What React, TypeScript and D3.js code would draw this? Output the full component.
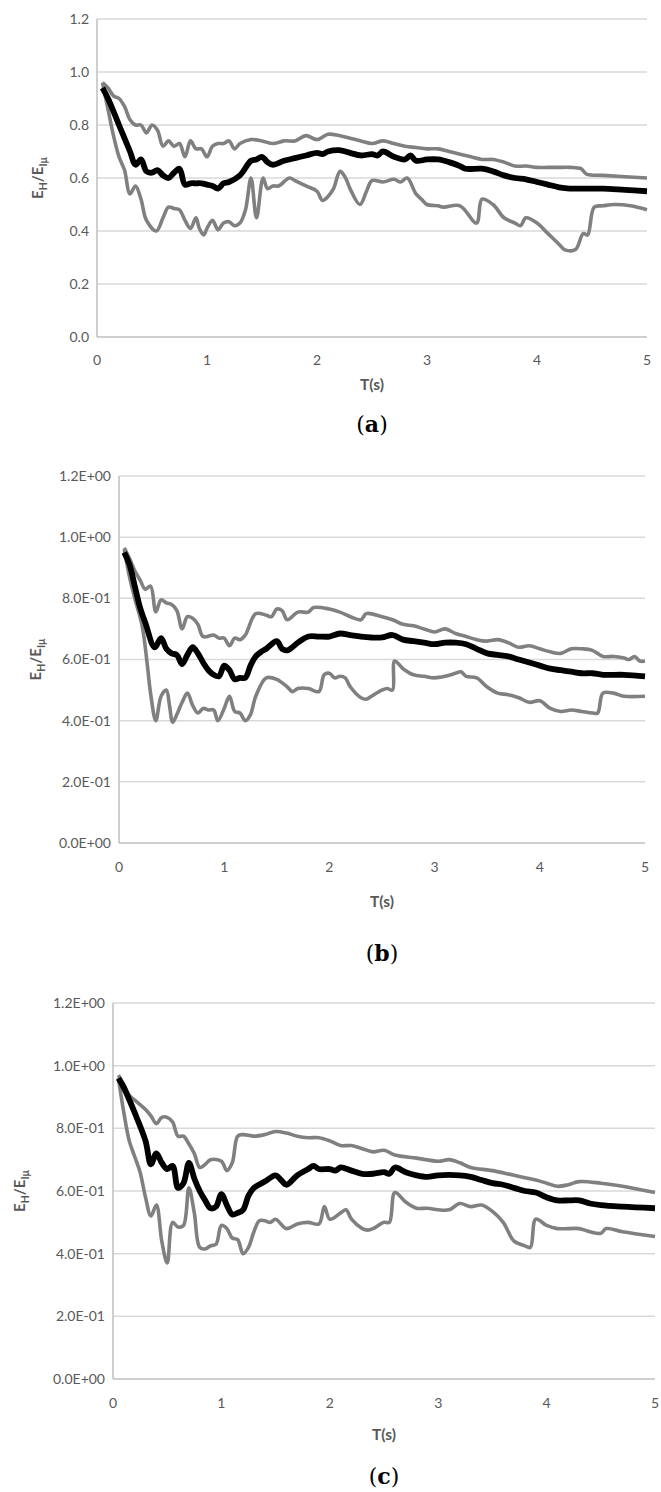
import React from 'react';
import * as d3 from 'd3';

type Pt = [number, number];

// ---- panel (a)
const upperA: Pt[] = [[0.05,0.96],[0.1,0.94],[0.15,0.91],[0.2,0.90],[0.25,0.87],[0.3,0.82],[0.35,0.80],[0.4,0.80],[0.45,0.77],[0.5,0.80],[0.55,0.78],[0.6,0.72],[0.65,0.74],[0.7,0.72],[0.75,0.73],[0.8,0.68],[0.85,0.74],[0.9,0.71],[0.95,0.71],[1.0,0.68],[1.05,0.72],[1.1,0.73],[1.15,0.73],[1.2,0.74],[1.25,0.71],[1.3,0.73],[1.4,0.745],[1.5,0.74],[1.6,0.73],[1.7,0.74],[1.8,0.74],[1.9,0.76],[2.0,0.745],[2.1,0.765],[2.2,0.76],[2.3,0.75],[2.4,0.74],[2.5,0.73],[2.6,0.74],[2.7,0.73],[2.8,0.72],[2.9,0.715],[3.0,0.71],[3.1,0.71],[3.2,0.70],[3.3,0.69],[3.4,0.68],[3.5,0.67],[3.6,0.67],[3.7,0.66],[3.8,0.645],[3.9,0.645],[4.0,0.64],[4.1,0.64],[4.2,0.64],[4.3,0.64],[4.4,0.635],[4.45,0.615],[4.6,0.61],[4.8,0.605],[5.0,0.60]];
const meanA: Pt[] = [[0.05,0.94],[0.1,0.90],[0.2,0.80],[0.3,0.70],[0.35,0.65],[0.4,0.67],[0.45,0.625],[0.5,0.62],[0.55,0.63],[0.6,0.61],[0.65,0.60],[0.7,0.62],[0.75,0.635],[0.8,0.575],[0.85,0.58],[0.9,0.58],[0.95,0.58],[1.0,0.575],[1.05,0.57],[1.1,0.56],[1.15,0.58],[1.2,0.585],[1.3,0.61],[1.4,0.665],[1.45,0.67],[1.5,0.68],[1.55,0.66],[1.6,0.65],[1.7,0.665],[1.8,0.675],[1.9,0.685],[2.0,0.695],[2.05,0.69],[2.1,0.70],[2.2,0.705],[2.3,0.695],[2.4,0.685],[2.5,0.69],[2.55,0.685],[2.6,0.70],[2.7,0.68],[2.8,0.67],[2.85,0.685],[2.9,0.665],[3.0,0.67],[3.1,0.67],[3.2,0.66],[3.3,0.645],[3.35,0.635],[3.5,0.635],[3.6,0.625],[3.7,0.61],[3.8,0.60],[3.9,0.595],[4.0,0.585],[4.1,0.575],[4.2,0.565],[4.3,0.56],[4.4,0.56],[4.5,0.56],[4.6,0.56],[4.8,0.555],[5.0,0.55]];
const lowerA: Pt[] = [[0.05,0.96],[0.1,0.86],[0.15,0.76],[0.2,0.68],[0.25,0.63],[0.3,0.54],[0.35,0.57],[0.4,0.52],[0.45,0.44],[0.54,0.40],[0.6,0.45],[0.65,0.49],[0.7,0.485],[0.75,0.48],[0.8,0.44],[0.85,0.41],[0.9,0.45],[0.93,0.41],[0.97,0.385],[1.0,0.41],[1.05,0.44],[1.1,0.405],[1.15,0.43],[1.2,0.435],[1.25,0.42],[1.3,0.43],[1.35,0.48],[1.40,0.60],[1.45,0.45],[1.51,0.60],[1.55,0.56],[1.6,0.57],[1.65,0.57],[1.75,0.60],[1.8,0.59],[1.9,0.57],[2.0,0.55],[2.05,0.515],[2.1,0.53],[2.15,0.56],[2.21,0.625],[2.26,0.60],[2.3,0.56],[2.39,0.50],[2.45,0.55],[2.5,0.59],[2.6,0.585],[2.7,0.595],[2.76,0.585],[2.82,0.60],[2.9,0.54],[2.95,0.52],[3.0,0.50],[3.1,0.495],[3.15,0.49],[3.3,0.495],[3.45,0.43],[3.5,0.52],[3.6,0.50],[3.7,0.45],[3.8,0.43],[3.85,0.42],[3.9,0.45],[4.0,0.43],[4.1,0.39],[4.2,0.35],[4.25,0.33],[4.35,0.33],[4.42,0.39],[4.46,0.385],[4.52,0.49],[4.6,0.495],[4.7,0.50],[4.85,0.495],[5.0,0.48]];

// ---- panel (b)
const upperB: Pt[] = [[0.05,0.965],[0.1,0.93],[0.15,0.89],[0.2,0.86],[0.25,0.83],[0.3,0.84],[0.35,0.756],[0.4,0.795],[0.45,0.785],[0.5,0.78],[0.55,0.76],[0.6,0.70],[0.65,0.74],[0.7,0.735],[0.75,0.715],[0.8,0.675],[0.9,0.68],[0.95,0.67],[1.0,0.67],[1.05,0.645],[1.1,0.67],[1.15,0.665],[1.2,0.68],[1.3,0.75],[1.4,0.745],[1.45,0.74],[1.5,0.765],[1.55,0.76],[1.6,0.73],[1.7,0.755],[1.8,0.755],[1.85,0.77],[2.0,0.765],[2.1,0.755],[2.2,0.74],[2.3,0.73],[2.35,0.75],[2.5,0.74],[2.6,0.73],[2.7,0.715],[2.8,0.71],[2.9,0.70],[3.0,0.69],[3.1,0.70],[3.2,0.685],[3.3,0.675],[3.4,0.665],[3.5,0.66],[3.6,0.665],[3.7,0.655],[3.8,0.64],[3.9,0.645],[4.0,0.635],[4.1,0.625],[4.2,0.62],[4.3,0.635],[4.4,0.635],[4.5,0.63],[4.6,0.61],[4.7,0.61],[4.8,0.605],[4.85,0.60],[4.9,0.61],[4.95,0.595],[5.0,0.595]];
const meanB: Pt[] = [[0.05,0.95],[0.1,0.91],[0.15,0.84],[0.2,0.77],[0.25,0.72],[0.34,0.64],[0.4,0.67],[0.45,0.635],[0.5,0.62],[0.55,0.615],[0.6,0.585],[0.65,0.615],[0.7,0.64],[0.75,0.62],[0.8,0.59],[0.85,0.565],[0.9,0.55],[0.95,0.545],[1.0,0.58],[1.05,0.565],[1.1,0.535],[1.15,0.54],[1.2,0.54],[1.25,0.58],[1.3,0.61],[1.35,0.625],[1.4,0.635],[1.5,0.66],[1.55,0.635],[1.6,0.63],[1.7,0.655],[1.8,0.675],[1.9,0.675],[2.0,0.675],[2.1,0.685],[2.2,0.68],[2.3,0.675],[2.4,0.672],[2.5,0.672],[2.6,0.68],[2.7,0.665],[2.8,0.66],[2.9,0.655],[3.0,0.65],[3.1,0.655],[3.2,0.655],[3.3,0.65],[3.4,0.635],[3.5,0.62],[3.6,0.615],[3.7,0.61],[3.8,0.60],[3.9,0.59],[4.0,0.58],[4.1,0.57],[4.2,0.565],[4.3,0.56],[4.4,0.555],[4.5,0.555],[4.6,0.55],[4.8,0.55],[5.0,0.545]];
const lowerB: Pt[] = [[0.05,0.96],[0.1,0.87],[0.15,0.80],[0.22,0.71],[0.27,0.58],[0.3,0.49],[0.35,0.40],[0.4,0.48],[0.45,0.50],[0.48,0.45],[0.51,0.395],[0.55,0.42],[0.6,0.46],[0.65,0.49],[0.7,0.45],[0.75,0.425],[0.8,0.44],[0.85,0.435],[0.9,0.435],[0.94,0.40],[1.0,0.44],[1.05,0.48],[1.1,0.43],[1.15,0.425],[1.2,0.40],[1.25,0.42],[1.3,0.48],[1.4,0.54],[1.5,0.535],[1.6,0.51],[1.65,0.495],[1.7,0.505],[1.8,0.505],[1.9,0.495],[1.95,0.55],[2.0,0.555],[2.05,0.54],[2.1,0.545],[2.15,0.54],[2.2,0.51],[2.3,0.475],[2.35,0.47],[2.4,0.48],[2.5,0.50],[2.55,0.505],[2.6,0.50],[2.62,0.595],[2.7,0.57],[2.8,0.55],[2.9,0.545],[3.0,0.54],[3.1,0.545],[3.2,0.555],[3.25,0.56],[3.3,0.545],[3.4,0.54],[3.5,0.51],[3.6,0.49],[3.7,0.485],[3.8,0.475],[3.9,0.46],[4.0,0.465],[4.1,0.44],[4.2,0.43],[4.3,0.435],[4.4,0.43],[4.5,0.425],[4.55,0.425],[4.6,0.49],[4.7,0.49],[4.8,0.48],[5.0,0.48]];

// ---- panel (c)
const upperC: Pt[] = [[0.05,0.97],[0.1,0.94],[0.15,0.905],[0.2,0.89],[0.3,0.86],[0.35,0.84],[0.4,0.815],[0.45,0.835],[0.5,0.835],[0.55,0.82],[0.6,0.775],[0.65,0.775],[0.7,0.75],[0.75,0.72],[0.8,0.675],[0.85,0.685],[0.9,0.70],[1.0,0.695],[1.05,0.665],[1.1,0.69],[1.15,0.775],[1.2,0.78],[1.3,0.775],[1.4,0.78],[1.5,0.79],[1.6,0.785],[1.7,0.775],[1.8,0.77],[1.9,0.77],[2.0,0.76],[2.1,0.745],[2.2,0.745],[2.3,0.735],[2.4,0.725],[2.5,0.73],[2.6,0.715],[2.8,0.705],[3.0,0.695],[3.1,0.70],[3.2,0.69],[3.3,0.675],[3.5,0.665],[3.7,0.65],[3.9,0.635],[4.0,0.625],[4.1,0.615],[4.2,0.62],[4.3,0.63],[4.5,0.625],[4.7,0.615],[5.0,0.595]];
const meanC: Pt[] = [[0.05,0.96],[0.1,0.93],[0.2,0.85],[0.3,0.76],[0.35,0.685],[0.4,0.72],[0.45,0.69],[0.5,0.67],[0.55,0.68],[0.6,0.61],[0.65,0.625],[0.7,0.69],[0.75,0.64],[0.8,0.60],[0.85,0.57],[0.9,0.545],[0.95,0.55],[1.0,0.59],[1.05,0.555],[1.1,0.525],[1.15,0.53],[1.2,0.54],[1.25,0.585],[1.3,0.61],[1.4,0.63],[1.5,0.65],[1.55,0.635],[1.6,0.62],[1.7,0.65],[1.8,0.67],[1.85,0.68],[1.9,0.67],[2.0,0.67],[2.05,0.665],[2.1,0.675],[2.2,0.665],[2.3,0.655],[2.4,0.655],[2.5,0.66],[2.55,0.655],[2.6,0.675],[2.7,0.66],[2.8,0.65],[2.9,0.645],[3.0,0.65],[3.2,0.65],[3.3,0.645],[3.4,0.635],[3.5,0.625],[3.6,0.62],[3.7,0.61],[3.8,0.60],[3.9,0.595],[4.0,0.58],[4.1,0.57],[4.2,0.57],[4.3,0.57],[4.4,0.56],[4.5,0.555],[4.7,0.55],[5.0,0.545]];
const lowerC: Pt[] = [[0.05,0.96],[0.1,0.85],[0.15,0.76],[0.2,0.71],[0.25,0.66],[0.3,0.58],[0.35,0.52],[0.4,0.555],[0.45,0.44],[0.5,0.37],[0.55,0.50],[0.6,0.485],[0.65,0.49],[0.7,0.61],[0.75,0.53],[0.8,0.42],[0.85,0.415],[0.9,0.425],[0.95,0.43],[1.0,0.49],[1.05,0.48],[1.1,0.45],[1.15,0.445],[1.2,0.40],[1.25,0.42],[1.3,0.47],[1.35,0.505],[1.4,0.505],[1.45,0.50],[1.5,0.51],[1.6,0.48],[1.7,0.495],[1.8,0.50],[1.9,0.495],[1.95,0.55],[2.0,0.51],[2.1,0.53],[2.15,0.54],[2.2,0.51],[2.3,0.48],[2.35,0.475],[2.4,0.48],[2.5,0.50],[2.55,0.50],[2.6,0.595],[2.7,0.565],[2.8,0.545],[2.9,0.545],[3.0,0.54],[3.1,0.54],[3.2,0.56],[3.3,0.55],[3.4,0.555],[3.5,0.535],[3.6,0.50],[3.7,0.44],[3.8,0.425],[3.85,0.42],[3.9,0.51],[4.0,0.49],[4.1,0.48],[4.3,0.48],[4.4,0.47],[4.5,0.465],[4.55,0.48],[4.7,0.47],[5.0,0.455]];

const xTicks = [0, 1, 2, 3, 4, 5];
const yTicks = [0, 0.2, 0.4, 0.6, 0.8, 1.0, 1.2];

const fmtPlain = d3.format('.1f');
const fmtSci = (v: number) => d3.format('.1e')(v).replace('e', 'E').replace(/E([+-])(\d)$/, 'E$10$2');

const FONT = 'Lato, "Open Sans", sans-serif';

const Panel = (props: {
    left: number, right: number, top: number, bottom: number,
    tickY: number, titleY: number, capY: number, labelX: number,
    caption: string, sci: boolean, upper: Pt[], mean: Pt[], lower: Pt[]
}) => {
    const { left, right, top, bottom } = props;
    const x = d3.scaleLinear().domain([0, 5]).range([left, right]);
    const y = d3.scaleLinear().domain([0, 1.2]).range([bottom, top]);
    const line = d3.line<Pt>().x(d => x(d[0])).y(d => y(d[1])).curve(d3.curveCatmullRom.alpha(0.5));
    const midY = (top + bottom) / 2;
    return (
        <g>
            {yTicks.map(t => (
                <g key={t}>
                    {t > 0 && <line x1={left} x2={right} y1={y(t)} y2={y(t)} stroke="#d9d9d9" strokeWidth={1.5} />}
                    <text x={left - 8} y={y(t)} dy="0.35em" textAnchor="end" fontSize={14} fill="#595959" fontFamily={FONT}>
                        {props.sci ? fmtSci(t) : fmtPlain(t)}
                    </text>
                </g>
            ))}
            <line x1={left} x2={left} y1={top} y2={bottom} stroke="#bfbfbf" strokeWidth={1.5} />
            <line x1={left} x2={right} y1={bottom} y2={bottom} stroke="#bfbfbf" strokeWidth={1.5} />
            {xTicks.map(t => (
                <text key={t} x={x(t)} y={props.tickY} dy="0.35em" textAnchor="middle" fontSize={14} fill="#595959" fontFamily={FONT}>{t}</text>
            ))}
            <path d={line(props.upper) ?? ''} fill="none" stroke="#808080" strokeWidth={3.6} strokeLinejoin="round" />
            <path d={line(props.lower) ?? ''} fill="none" stroke="#808080" strokeWidth={3.6} strokeLinejoin="round" />
            <path d={line(props.mean) ?? ''} fill="none" stroke="#000" strokeWidth={5.8} strokeLinejoin="round" />
            <text x={(left + right) / 2} y={props.titleY} dy="0.35em" textAnchor="middle" fontSize={15.5} fontWeight="bold" fill="#595959" fontFamily={FONT}>T(s)</text>
            <text transform={`translate(${props.labelX},${midY}) rotate(-90)`} dy="0.35em" textAnchor="middle" fontSize={15} fontWeight="bold" fill="#595959" fontFamily={FONT}>
                E<tspan fontSize={10.5} dy="4">H</tspan><tspan dy="-4">/E</tspan><tspan fontSize={10.5} dy="4">Iμ</tspan>
            </text>
            <text x={(left + right) / 2} y={props.capY} dy="0.35em" textAnchor="middle" fontSize={22} fill="#000" fontFamily='"DejaVu Serif", "Liberation Serif", serif'>
                (<tspan fontWeight="bold">{props.caption}</tspan>)
            </text>
        </g>
    );
};

const App = () => {
    return (
        <svg width={661} height={1492} style={{ position: 'absolute', left: 0, top: 0, background: '#fff' }}>
            <Panel left={97} right={647} top={19} bottom={337} tickY={360} titleY={385} capY={424} labelX={38}
                caption="a" sci={false} upper={upperA} mean={meanA} lower={lowerA} />
            <Panel left={119} right={645} top={476} bottom={843} tickY={867} titleY={902} capY={953} labelX={36}
                caption="b" sci={true} upper={upperB} mean={meanB} lower={lowerB} />
            <Panel left={113} right={655} top={1003} bottom={1379} tickY={1403} titleY={1435} capY={1476} labelX={20}
                caption="c" sci={true} upper={upperC} mean={meanC} lower={lowerC} />
        </svg>
    );
};

export default App;
